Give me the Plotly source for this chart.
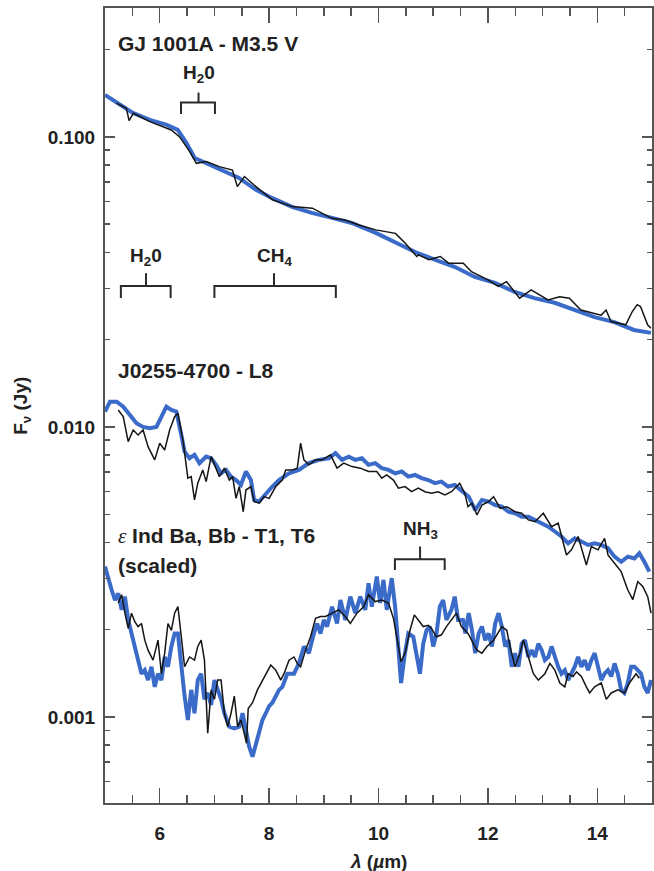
import plotly.graph_objects as go

# ---------------- data (wavelength in micron, flux density in Jy) ----------------
gj1001_model = [
    (5.00, 0.1396), (5.27, 0.1289), (5.51, 0.1210), (5.82, 0.1144), (6.13, 0.1100),
    (6.33, 0.1057), (6.49, 0.0953), (6.64, 0.0846), (6.85, 0.0813), (7.15, 0.0769),
    (7.45, 0.0722), (7.76, 0.0657), (8.05, 0.0616), (8.42, 0.0574), (8.78, 0.0547),
    (9.15, 0.0526), (9.51, 0.0505), (9.95, 0.0467), (10.31, 0.0434), (10.67, 0.0401),
    (11.04, 0.0377), (11.40, 0.0356), (11.76, 0.0329), (12.13, 0.0314), (12.49, 0.0292),
    (12.85, 0.0278), (13.22, 0.0268), (13.58, 0.0253), (13.95, 0.0239), (14.31, 0.0230),
    (14.67, 0.0216), (14.98, 0.0211),
]
gj1001_obs = [
    (5.21, 0.1307), (5.39, 0.1256), (5.44, 0.1138), (5.52, 0.1207), (5.82, 0.1129),
    (6.21, 0.1057), (6.36, 0.1002), (6.55, 0.0890), (6.67, 0.0811), (6.85, 0.0822),
    (7.09, 0.0790), (7.33, 0.0769), (7.42, 0.0674), (7.55, 0.0730), (7.76, 0.0674),
    (8.06, 0.0607), (8.42, 0.0575), (8.79, 0.0568), (9.15, 0.0524), (9.39, 0.0517),
    (9.64, 0.0497), (9.95, 0.0478), (10.31, 0.0465), (10.49, 0.0430), (10.70, 0.0387),
    (10.73, 0.0392), (10.92, 0.0377), (11.13, 0.0387), (11.28, 0.0367), (11.55, 0.0367),
    (11.70, 0.0343), (12.01, 0.0321), (12.19, 0.0305), (12.34, 0.0317), (12.58, 0.0278),
    (12.79, 0.0297), (13.10, 0.0274), (13.31, 0.0281), (13.49, 0.0278), (13.70, 0.0253),
    (14.07, 0.0243), (14.16, 0.0253), (14.25, 0.0231), (14.52, 0.0225), (14.64, 0.0250),
    (14.73, 0.0264), (14.79, 0.0260), (14.92, 0.0225), (14.98, 0.0219),
]

j0255_model = [
    (5.000, 0.01129), (5.091, 0.01222), (5.213, 0.01222), (5.333, 0.01175), (5.455, 0.01100),
    (5.576, 0.01030), (5.696, 0.01000), (5.818, 0.00990), (5.940, 0.01000), (6.031, 0.01085),
    (6.122, 0.01175), (6.213, 0.01144), (6.304, 0.01129), (6.395, 0.00938), (6.455, 0.00822),
    (6.545, 0.00780), (6.636, 0.00801), (6.727, 0.00750), (6.849, 0.00790), (6.940, 0.00780),
    (7.031, 0.00740), (7.122, 0.00692), (7.213, 0.00711), (7.304, 0.00674), (7.395, 0.00656),
    (7.485, 0.00631), (7.576, 0.00702), (7.667, 0.00656), (7.727, 0.00560), (7.818, 0.00553),
    (7.940, 0.00591), (8.060, 0.00623), (8.182, 0.00656), (8.364, 0.00692), (8.545, 0.00711),
    (8.727, 0.00750), (8.909, 0.00770), (9.091, 0.00780), (9.213, 0.00812), (9.333, 0.00770),
    (9.455, 0.00790), (9.576, 0.00770), (9.696, 0.00780), (9.818, 0.00740), (9.940, 0.00750),
    (10.060, 0.00721), (10.182, 0.00711), (10.304, 0.00692), (10.424, 0.00702), (10.545, 0.00674),
    (10.667, 0.00683), (10.788, 0.00666), (10.909, 0.00656), (11.031, 0.00640), (11.151, 0.00648),
    (11.273, 0.00623), (11.394, 0.00631), (11.515, 0.00606), (11.649, 0.00575), (11.769, 0.00517),
    (11.891, 0.00560), (12.013, 0.00553), (12.133, 0.00538), (12.255, 0.00531), (12.376, 0.00510),
    (12.496, 0.00504), (12.618, 0.00490), (12.740, 0.00490), (12.860, 0.00478), (12.982, 0.00466),
    (13.104, 0.00453), (13.224, 0.00436), (13.345, 0.00419), (13.467, 0.00397), (13.587, 0.00413),
    (13.709, 0.00403), (13.831, 0.00392), (13.951, 0.00397), (14.073, 0.00392), (14.195, 0.00382),
    (14.315, 0.00357), (14.436, 0.00343), (14.558, 0.00357), (14.678, 0.00352), (14.769, 0.00367),
    (14.860, 0.00343), (14.951, 0.00317),
]
j0255_obs = [
    (5.242, 0.01144), (5.333, 0.01085), (5.424, 0.00890), (5.515, 0.00976), (5.605, 0.00938),
    (5.696, 0.00976), (5.787, 0.00855), (5.909, 0.00770), (6.000, 0.00879), (6.091, 0.00833),
    (6.182, 0.00976), (6.273, 0.01085), (6.333, 0.01115), (6.424, 0.00902), (6.515, 0.00666),
    (6.576, 0.00674), (6.636, 0.00560), (6.696, 0.00640), (6.787, 0.00711), (6.849, 0.00648),
    (6.940, 0.00790), (7.031, 0.00711), (7.091, 0.00674), (7.182, 0.00721), (7.273, 0.00656),
    (7.333, 0.00674), (7.395, 0.00567), (7.455, 0.00623), (7.527, 0.00510), (7.576, 0.00606),
    (7.667, 0.00623), (7.727, 0.00553), (7.818, 0.00546), (7.909, 0.00575), (8.000, 0.00567),
    (8.122, 0.00623), (8.242, 0.00656), (8.304, 0.00711), (8.424, 0.00711), (8.515, 0.00721),
    (8.576, 0.00879), (8.636, 0.00770), (8.727, 0.00740), (8.849, 0.00770), (8.969, 0.00770),
    (9.122, 0.00801), (9.242, 0.00721), (9.364, 0.00750), (9.515, 0.00730), (9.667, 0.00721),
    (9.818, 0.00702), (9.969, 0.00702), (10.060, 0.00666), (10.151, 0.00683), (10.273, 0.00656),
    (10.364, 0.00615), (10.485, 0.00623), (10.606, 0.00598), (10.727, 0.00615), (10.849, 0.00598),
    (10.969, 0.00591), (11.091, 0.00598), (11.213, 0.00583), (11.333, 0.00598), (11.485, 0.00640),
    (11.576, 0.00591), (11.636, 0.00531), (11.709, 0.00546), (11.800, 0.00497), (11.891, 0.00538),
    (12.013, 0.00553), (12.104, 0.00575), (12.224, 0.00524), (12.345, 0.00531), (12.496, 0.00510),
    (12.618, 0.00504), (12.740, 0.00478), (12.860, 0.00471), (13.013, 0.00504), (13.164, 0.00453),
    (13.285, 0.00466), (13.436, 0.00362), (13.527, 0.00377), (13.649, 0.00419), (13.800, 0.00334),
    (13.891, 0.00387), (14.013, 0.00377), (14.133, 0.00413), (14.195, 0.00362), (14.315, 0.00339),
    (14.436, 0.00317), (14.558, 0.00274), (14.649, 0.00254), (14.740, 0.00293), (14.831, 0.00282),
    (14.922, 0.00260), (14.982, 0.00228),
]

epsind_model = [
    (5.000, 0.00330), (5.060, 0.00297), (5.122, 0.00274), (5.182, 0.00253), (5.242, 0.00267),
    (5.304, 0.00234), (5.364, 0.00260), (5.424, 0.00216), (5.485, 0.00194), (5.545, 0.00179),
    (5.605, 0.00161), (5.667, 0.00141), (5.727, 0.00145), (5.787, 0.00134), (5.849, 0.00149),
    (5.909, 0.00127), (5.969, 0.00141), (6.031, 0.00134), (6.091, 0.00161), (6.151, 0.00149),
    (6.213, 0.00175), (6.273, 0.00194), (6.333, 0.00194), (6.395, 0.00149), (6.455, 0.00118),
    (6.515, 0.000976), (6.576, 0.00124), (6.636, 0.00103), (6.696, 0.00134), (6.758, 0.00141),
    (6.818, 0.00115), (6.878, 0.00121), (6.940, 0.00110), (7.000, 0.00134), (7.060, 0.00124),
    (7.122, 0.00115), (7.182, 0.00103), (7.273, 0.000926), (7.364, 0.000914), (7.455, 0.000926),
    (7.515, 0.00103), (7.576, 0.000901), (7.636, 0.000790), (7.697, 0.000730), (7.758, 0.000812),
    (7.818, 0.000901), (7.878, 0.000976), (7.940, 0.00103), (8.000, 0.00109), (8.060, 0.00112),
    (8.122, 0.00118), (8.182, 0.00124), (8.242, 0.00127), (8.333, 0.00141), (8.455, 0.00141),
    (8.545, 0.00153), (8.636, 0.00175), (8.727, 0.00166), (8.818, 0.00194), (8.878, 0.00210),
    (8.940, 0.00194), (9.000, 0.00216), (9.060, 0.00205), (9.151, 0.00240), (9.242, 0.00210),
    (9.304, 0.00253), (9.394, 0.00216), (9.485, 0.00260), (9.576, 0.00228), (9.667, 0.00260),
    (9.758, 0.00234), (9.818, 0.00289), (9.878, 0.00240), (9.969, 0.00305), (10.031, 0.00247),
    (10.091, 0.00297), (10.151, 0.00234), (10.242, 0.00301), (10.304, 0.00240), (10.364, 0.00170),
    (10.413, 0.00131), (10.473, 0.00161), (10.545, 0.00194), (10.636, 0.00189), (10.696, 0.00161),
    (10.758, 0.00141), (10.818, 0.00179), (10.878, 0.00199), (10.940, 0.00205), (11.000, 0.00175),
    (11.060, 0.00194), (11.122, 0.00240), (11.182, 0.00253), (11.242, 0.00216), (11.333, 0.00234),
    (11.394, 0.00260), (11.455, 0.00216), (11.545, 0.00216), (11.588, 0.00194), (11.649, 0.00228),
    (11.709, 0.00199), (11.769, 0.00166), (11.831, 0.00194), (11.891, 0.00205), (11.951, 0.00184),
    (12.013, 0.00194), (12.073, 0.00175), (12.133, 0.00210), (12.195, 0.00228), (12.255, 0.00205),
    (12.315, 0.00175), (12.376, 0.00184), (12.436, 0.00149), (12.496, 0.00166), (12.558, 0.00149),
    (12.618, 0.00179), (12.678, 0.00184), (12.740, 0.00161), (12.800, 0.00170), (12.860, 0.00161),
    (12.922, 0.00179), (12.982, 0.00170), (13.042, 0.00157), (13.104, 0.00161), (13.164, 0.00175),
    (13.224, 0.00161), (13.285, 0.00149), (13.345, 0.00141), (13.406, 0.00145), (13.467, 0.00134),
    (13.527, 0.00141), (13.587, 0.00149), (13.649, 0.00161), (13.709, 0.00149), (13.769, 0.00157),
    (13.831, 0.00145), (13.891, 0.00157), (13.951, 0.00166), (14.013, 0.00149), (14.073, 0.00134),
    (14.133, 0.00141), (14.195, 0.00145), (14.255, 0.00138), (14.315, 0.00153), (14.376, 0.00141),
    (14.436, 0.00124), (14.496, 0.00121), (14.558, 0.00131), (14.618, 0.00149), (14.678, 0.00149),
    (14.740, 0.00145), (14.800, 0.00141), (14.860, 0.00127), (14.922, 0.00121), (14.982, 0.00134),
]
epsind_obs = [
    (5.242, 0.00247), (5.304, 0.00264), (5.364, 0.00228), (5.424, 0.00202), (5.485, 0.00228),
    (5.545, 0.00213), (5.605, 0.00205), (5.667, 0.00210), (5.727, 0.00184), (5.787, 0.00170),
    (5.878, 0.00157), (5.969, 0.00184), (6.031, 0.00141), (6.091, 0.00166), (6.151, 0.00210),
    (6.213, 0.00199), (6.273, 0.00228), (6.333, 0.00240), (6.395, 0.00189), (6.455, 0.00149),
    (6.545, 0.00161), (6.636, 0.00157), (6.696, 0.00175), (6.758, 0.00184), (6.818, 0.00157),
    (6.878, 0.000879), (6.940, 0.00124), (7.000, 0.00115), (7.060, 0.00134), (7.122, 0.00134),
    (7.182, 0.00103), (7.242, 0.000926), (7.304, 0.00103), (7.364, 0.00118), (7.424, 0.000926),
    (7.485, 0.000976), (7.545, 0.000879), (7.587, 0.000812), (7.618, 0.00107), (7.697, 0.00112),
    (7.787, 0.00124), (7.878, 0.00134), (7.940, 0.00141), (8.031, 0.00151), (8.122, 0.00145),
    (8.213, 0.00134), (8.273, 0.00141), (8.364, 0.00157), (8.455, 0.00161), (8.515, 0.00153),
    (8.576, 0.00149), (8.667, 0.00170), (8.758, 0.00189), (8.849, 0.00219), (8.940, 0.00222),
    (9.031, 0.00222), (9.151, 0.00228), (9.273, 0.00234), (9.394, 0.00222), (9.485, 0.00210),
    (9.606, 0.00228), (9.727, 0.00240), (9.818, 0.00264), (9.940, 0.00250), (10.060, 0.00253),
    (10.182, 0.00247), (10.273, 0.00219), (10.351, 0.00179), (10.413, 0.00155), (10.485, 0.00166),
    (10.576, 0.00199), (10.655, 0.00225), (10.727, 0.00216), (10.818, 0.00205), (10.909, 0.00207),
    (10.969, 0.00202), (11.060, 0.00189), (11.151, 0.00192), (11.242, 0.00205), (11.333, 0.00216),
    (11.424, 0.00228), (11.515, 0.00205), (11.636, 0.00194), (11.800, 0.00170), (11.891, 0.00166),
    (11.982, 0.00175), (12.104, 0.00184), (12.255, 0.00205), (12.345, 0.00199), (12.405, 0.00175),
    (12.496, 0.00149), (12.587, 0.00166), (12.649, 0.00184), (12.740, 0.00161), (12.831, 0.00141),
    (12.922, 0.00134), (13.042, 0.00141), (13.133, 0.00153), (13.224, 0.00145), (13.315, 0.00131),
    (13.406, 0.00127), (13.467, 0.00141), (13.558, 0.00138), (13.618, 0.00143), (13.709, 0.00138),
    (13.800, 0.00127), (13.860, 0.00121), (13.951, 0.00127), (14.073, 0.00131), (14.164, 0.00115),
    (14.255, 0.00121), (14.376, 0.00124), (14.496, 0.00121), (14.587, 0.00131), (14.709, 0.00141),
    (14.769, 0.00136),
]

# absorption band brackets: label, start, end, centre (micron); flux levels (Jy)
band_labels = ["H<sub>2</sub>0", "H<sub>2</sub>0", "CH<sub>4</sub>", "NH<sub>3</sub>"]
band_start = [6.39, 5.29, 7.00, 10.30]
band_end = [7.01, 6.20, 9.22, 11.21]
band_centre = [6.71, 5.75, 8.09, 10.76]
band_bar = [0.1313, 0.03062, 0.03062, 0.00350]
band_foot = [0.1200, 0.02785, 0.02785, 0.00321]
band_stem = [0.1422, 0.0339, 0.0339, 0.00387]

object_labels = ["GJ 1001A - M3.5 V", "J0255-4700 - L8",
                 "<span style=\"font-family:'Liberation Serif';font-weight:normal\"><i>ε</i></span> Ind Ba, Bb - T1, T6",
                 "(scaled)"]

x_major = [6, 8, 10, 12, 14]
x_minor = [5.5, 6.5, 7, 7.5, 8.5, 9, 9.5, 10.5, 11, 11.5, 12.5, 13, 13.5, 14.5]
y_major = [0.001, 0.01, 0.1]
y_major_text = ["0.001", "0.010", "0.100"]
y_minor = [0.0006, 0.0007, 0.0008, 0.0009,
           0.002, 0.003, 0.004, 0.005, 0.006, 0.007, 0.008, 0.009,
           0.02, 0.03, 0.04, 0.05, 0.06, 0.07, 0.08, 0.09, 0.2]

# ---------------- figure ----------------
W, H = 654, 871
ML, MR, MT, MB = 105, 0, 8, 68
PW, PH = W - ML - MR, H - MT - MB

BLUE = "#3a6bc9"
BLACK = "#151515"
AXC = "#555555"
TXT = "#222222"
FONT = "Liberation Sans"


def unzip(pairs):
    return [p[0] for p in pairs], [p[1] for p in pairs]


pairs = [(gj1001_model, gj1001_obs), (j0255_model, j0255_obs), (epsind_model, epsind_obs)]
fig = go.Figure()
for model, _ in pairs:
    mx, my = unzip(model)
    fig.add_trace(go.Scatter(x=mx, y=my, mode="lines", line=dict(color=BLUE, width=4),
                             showlegend=False, hoverinfo="skip"))
for _, obs in pairs:
    ox, oy = unzip(obs)
    fig.add_trace(go.Scatter(x=ox, y=oy, mode="lines", line=dict(color=BLACK, width=1.5),
                             showlegend=False, hoverinfo="skip"))

# brackets
for i in range(len(band_start)):
    bx = [band_start[i], band_start[i], band_end[i], band_end[i], None, band_centre[i], band_centre[i]]
    by = [band_foot[i], band_bar[i], band_bar[i], band_foot[i], None, band_bar[i], band_stem[i]]
    fig.add_trace(go.Scatter(x=bx, y=by, mode="lines", line=dict(color="#2a2a2a", width=2),
                             showlegend=False, hoverinfo="skip"))


def py2paper(py):
    return (H - MB - py) / PH


def px2paper(px):
    return (px - ML) / PW


annots = []
label_py = [44, 370, 536, 565]
for txt, py in zip(object_labels, label_py):
    annots.append(dict(text="<b>" + txt + "</b>", xref="paper", yref="paper",
                       x=px2paper(116), y=py2paper(py), xanchor="left", yanchor="middle",
                       showarrow=False, font=dict(family=FONT, size=21, color=TXT)))
band_label_py = [74, 257, 257, 530]
for i, txt in enumerate(band_labels):
    annots.append(dict(text="<b>" + txt + "</b>", xref="x", yref="paper",
                       x=band_centre[i], y=py2paper(band_label_py[i]), xanchor="center", yanchor="middle",
                       showarrow=False, font=dict(family=FONT, size=19, color=TXT)))
annots.append(dict(text="<b><i>λ</i> (<i>µ</i>m)</b>", xref="paper", yref="paper", x=0.5,
                   y=py2paper(861), xanchor="center", yanchor="middle", showarrow=False,
                   font=dict(family=FONT, size=19, color=TXT)))
annots.append(dict(text="<b>F<sub>ν</sub> (Jy)</b>", xref="paper", yref="paper", x=px2paper(21),
                   y=0.5, xanchor="center", yanchor="middle", textangle=-90, showarrow=False,
                   font=dict(family=FONT, size=19, color=TXT)))

fig.update_layout(
    width=W, height=H,
    margin=dict(l=ML, r=MR, t=MT, b=MB),
    paper_bgcolor="white", plot_bgcolor="white",
    showlegend=False,
    hovermode=False,
    annotations=annots,
    xaxis=dict(
        range=[5, 15], tickmode="array", tickvals=x_major, ticktext=[str(v) for v in x_major],
        ticks="inside", ticklen=15, tickwidth=1.5, tickcolor=AXC,
        showline=True, linecolor=AXC, linewidth=2, mirror="ticks",
        showgrid=False, zeroline=False,
        tickfont=dict(family=FONT, size=19, color=TXT, weight="bold"),
        ticklabelstandoff=12,
        minor=dict(tickmode="array", tickvals=x_minor, ticks="inside", ticklen=8,
                   tickwidth=1.5, tickcolor=AXC, showgrid=False),
    ),
    yaxis=dict(
        type="log", range=[-3.2966, -0.5555], tickmode="array", tickvals=y_major,
        ticktext=y_major_text,
        ticks="inside", ticklen=10, tickwidth=1.5, tickcolor=AXC,
        showline=True, linecolor=AXC, linewidth=2, mirror="ticks",
        showgrid=False, zeroline=False,
        tickfont=dict(family=FONT, size=19, color=TXT, weight="bold"),
        ticklabelstandoff=4,
        minor=dict(tickmode="array", tickvals=y_minor, ticks="inside", ticklen=5,
                   tickwidth=1.5, tickcolor=AXC, showgrid=False),
    ),
)

fig.write_html("out.html",
               config={"displayModeBar": False, "staticPlot": True},
               post_script="document.body.style.margin='0';document.body.style.overflow='hidden';")
